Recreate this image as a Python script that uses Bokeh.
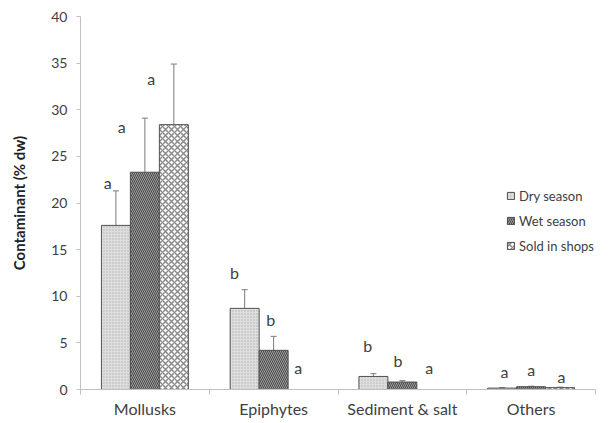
from bokeh.plotting import figure
from bokeh.models import Range1d, FixedTicker, Whisker, ColumnDataSource, TeeHead, Legend, LegendItem
from bokeh.core.properties import value
from bokeh.embed import file_html
from bokeh.resources import INLINE

categories = ["Mollusks", "Epiphytes", "Sediment & salt", "Others"]
series = ["Dry season", "Wet season", "Sold in shops"]
dry = [17.6, 8.7, 1.4, 0.15]
dry_err = [3.7, 2.0, 0.3, 0.05]
wet = [23.3, 4.2, 0.8, 0.3]
wet_err = [5.8, 1.5, 0.15, 0.05]
sold = [28.4, 0.0, 0.0, 0.2]
sold_err = [6.5, 0.0, 0.0, 0.05]
letters_dry = ["a", "b", "b", "a"]
letters_wet = ["a", "b", "b", "a"]
letters_sold = ["a", "a", "a", "a"]
# letter heights (value units)
letter_y_dry = [22.2, 12.5, 4.7, 1.9]
letter_y_wet = [28.2, 7.5, 3.1, 2.1]
letter_y_sold = [33.4, 2.4, 2.4, 1.4]
y_ticks = [0, 5, 10, 15, 20, 25, 30, 35, 40]

FONT = "Lato"
TXT = "#404040"
bar_w = 0.225

p = figure(width=612, height=423, output_backend="svg", toolbar_location=None,
           x_range=Range1d(0, 4), y_range=Range1d(0, 40),
           min_border_left=80, min_border_right=17, min_border_top=16, min_border_bottom=34)
p.outline_line_color = None
p.grid.grid_line_color = None
p.background_fill_color = "white"

styles = [
    dict(fill_color="#dedede", hatch_pattern="dot", hatch_color="#b0b0b0", hatch_scale=3, hatch_weight=1),
    dict(fill_color="#9c9c9c", hatch_pattern="left_diagonal_line", hatch_color="#4a4a4a", hatch_scale=4, hatch_weight=1),
    dict(fill_color="white", hatch_pattern="diagonal_cross", hatch_color="#8a8a8a", hatch_scale=6, hatch_weight=1.5),
]
vals = [dry, wet, sold]
errs = [dry_err, wet_err, sold_err]
letters = [letters_dry, letters_wet, letters_sold]
letter_ys = [letter_y_dry, letter_y_wet, letter_y_sold]
# horizontal nudge of letters (in bar widths) so they clear the error bars
letter_dx = [[-0.28, -0.35, -0.2, 0.08], [-0.8, -0.1, -0.15, 0.0], [-0.78, -0.15, -0.07, 0.05]]

items = []
for k in range(3):
    xs = [i + 0.5 + (k - 1) * bar_w for i in range(4)]
    src = ColumnDataSource(dict(x=xs, top=vals[k], up=[v + e for v, e in zip(vals[k], errs[k])]))
    r = p.vbar(x="x", top="top", width=bar_w, source=src, line_color="#505050", line_width=1, **styles[k])
    items.append(LegendItem(label=series[k], renderers=[r]))
    w = Whisker(source=src, base="x", upper="up", lower="top", line_color="#7a7a7a", line_width=1,
                upper_head=TeeHead(size=6, line_color="#7a7a7a", line_width=1), lower_head=None)
    p.add_layout(w)
    lsrc = ColumnDataSource(dict(x=[x + d * bar_w for x, d in zip(xs, letter_dx[k])], y=letter_ys[k], t=letters[k]))
    p.text(x="x", y="y", text="t", source=lsrc, text_font=value(FONT), text_font_size="16px",
           text_color=TXT, text_align="center", text_baseline="middle")

legend = Legend(items=items, location=(426, 134), border_line_color=None, background_fill_alpha=0,
                glyph_width=9, glyph_height=9, label_text_font=FONT, label_text_font_size="13px",
                label_text_color=TXT, spacing=6, label_height=19, padding=4, label_standoff=4)
p.add_layout(legend)

ya = p.yaxis[0]
ya.ticker = FixedTicker(ticks=y_ticks)
ya.axis_line_color = "#c0c0c0"
ya.major_tick_line_color = "#c0c0c0"
ya.major_tick_out = 4
ya.major_tick_in = 0
ya.minor_tick_line_color = None
ya.major_label_text_font = FONT
ya.major_label_text_font_size = "14px"
ya.major_label_text_color = TXT
ya.major_label_standoff = 9
ya.axis_label = "Contaminant (% dw)"
ya.axis_label_text_font = FONT
ya.axis_label_text_font_style = "bold"
ya.axis_label_text_font_size = "15px"
ya.axis_label_text_color = "#222222"
ya.axis_label_standoff = 20

xa = p.xaxis[0]
xa.ticker = FixedTicker(ticks=[i + 0.5 for i in range(4)], minor_ticks=[0, 1, 2, 3, 4])
xa.major_label_overrides = {i + 0.5: c for i, c in enumerate(categories)}
xa.axis_line_color = "#c0c0c0"
xa.major_tick_line_color = None
xa.major_tick_out = 0
xa.major_tick_in = 0
xa.minor_tick_line_color = "#c0c0c0"
xa.minor_tick_out = 5
xa.minor_tick_in = 0
xa.major_label_text_font = FONT
xa.major_label_text_font_size = "16px"
xa.major_label_text_color = TXT
xa.major_label_standoff = 4

open("out.html", "w").write(file_html(p, INLINE))
